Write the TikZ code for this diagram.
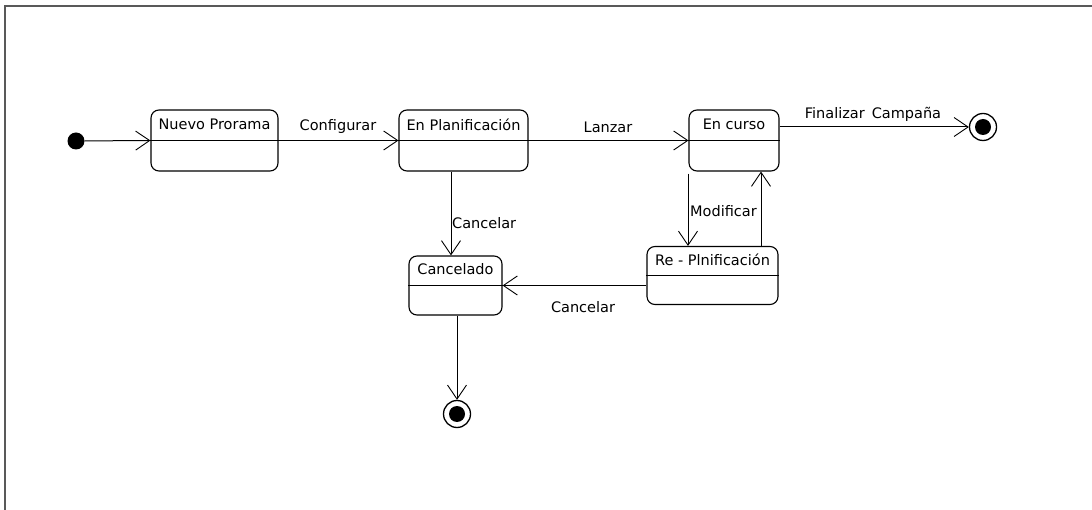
\documentclass[tikz,border=0pt]{standalone}
\usepackage{fontspec}
\setmainfont{DejaVu Sans}
\usetikzlibrary{arrows.meta}
\begin{document}
\begin{tikzpicture}[x=1pt,y=-1pt,
  font=\fontsize{14.5}{17}\selectfont,
  statebox/.style={draw, line width=1.1pt, rounded corners=8pt, inner sep=0pt},
  divider/.style={line width=1.1pt},
  conn/.style={line width=1pt, -{Straight Barb[length=14pt,width=19pt,line width=0.9pt]}},
  initdot/.style={circle, fill, inner sep=0pt, minimum size=17pt},
  finring/.style={circle, draw, line width=1.3pt, inner sep=0pt, minimum size=27pt, fill=white},
  findot/.style={circle, fill, inner sep=0pt, minimum size=16pt},
  lbl/.style={inner sep=1pt}]

% canvas and frame
\useasboundingbox (0,0) rectangle (1092,510);
\draw[line width=2pt, black!65] (5,510) -- (5,6) -- (1092,6);

% states
\node[statebox, minimum width=127pt, minimum height=61pt] (nuevo) at (214.5,140.5) {};
\node[statebox, minimum width=129pt, minimum height=61pt] (planif) at (463.5,140.5) {};
\node[statebox, minimum width=90pt,  minimum height=61pt] (curso) at (734,140.5) {};
\node[statebox, minimum width=131pt, minimum height=58pt] (replan) at (712.5,275.5) {};
\node[statebox, minimum width=93pt,  minimum height=59pt] (cancel) at (455.5,285.5) {};

% compartment dividers
\draw[divider] (nuevo.west) -- (nuevo.east);
\draw[divider] (planif.west) -- (planif.east);
\draw[divider] (curso.west) -- (curso.east);
\draw[divider] (replan.west) -- (replan.east);
\draw[divider] (cancel.west) -- (cancel.east);

% state names
\node (nuevoT)  at ([yshift=-15pt]nuevo.north)  {Nuevo Prorama};
\node (planifT) at ([yshift=-15pt]planif.north) {En Planificación};
\node (cursoT)  at ([yshift=-15pt]curso.north)  {En curso};
\node (replanT) at ([yshift=-14pt]replan.north) {Re - Plnificación};
\node (cancelT) at ([yshift=-14pt]cancel.north) {Cancelado};

% pseudo states
\node[initdot] (ini) at (76,141) {};
\node[finring] (fin1) at (983,127) {};
\node[findot] (fin1d) at (fin1.center) {};
\node[finring] (fin2) at (457,414) {};
\node[findot] (fin2d) at (fin2.center) {};

% transitions
\draw[conn] (ini) -- (nuevo.west);
\draw[conn] (nuevo.east) -- (planif.west);
\draw[conn] (planif.east) -- (curso.west);
\draw[conn] (curso.east |- fin1) -- (fin1.west);
\draw[conn] ([xshift=-12.5pt]planif.south) -- ([xshift=-12.5pt]planif.south |- cancel.north);
\draw[conn] ([xshift=-46pt,yshift=-2pt]curso.south) -- ([xshift=-46pt]curso.south |- replan.north);
\draw[conn] ([xshift=48.5pt]replan.north) -- ([xshift=48.5pt]replan.north |- curso.south);
\draw[conn] (replan.west |- cancel.east) -- (cancel.east);
\draw[conn] ([xshift=1.5pt]cancel.south) -- ([xshift=1.5pt]cancel.south |- fin2.north);

% transition labels
\node[lbl] (lConf)  at (338,127) {Configurar};
\node[lbl] (lLanz)  at (608,127) {Lanzar};
\node[lbl] (lFin)   at (873,114) {Finalizar\, Campaña};
\node[lbl, anchor=west] (lCanc1) at (451,223) {Cancelar};
\node[lbl, anchor=west] (lMod)   at (689,211) {Modificar};
\node[lbl] (lCanc2) at (583,307) {Cancelar};
\end{tikzpicture}
\end{document}
